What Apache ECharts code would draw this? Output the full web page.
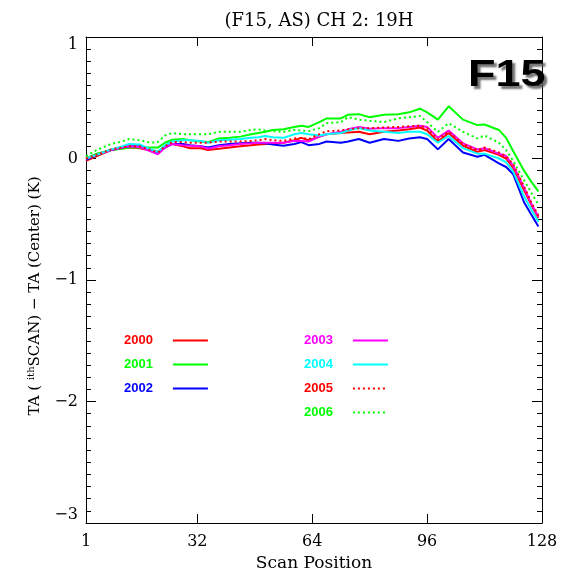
<!DOCTYPE html>
<html>
<head>
<meta charset="utf-8">
<script src="https://cdn.jsdelivr.net/npm/echarts@6/dist/echarts.min.js"></script>
<style>html,body{margin:0;padding:0;background:#fff;}#chart{width:565px;height:570px;}</style>
</head>
<body>
<div id="chart"></div>
<script>
const scanPos = [1,4,8,11,13,16,19,21,23,25,28,30,33,35,38,41,44,47,49,51,53,56,59,61,63,66,68,72,74,77,80,84,88,91,94,96,99,102,106,110,112,116,118,120,123,125,127];
const y2000 = [-0.02,0.02,0.07,0.085,0.09, 0.085,0.065,0.045,0.09,0.12, 0.1,0.085,0.085,0.07,0.08, 0.09,0.1,0.11,0.115,0.12, 0.125,0.13,0.15,0.17,0.15, 0.18,0.2,0.21,0.215,0.22, 0.2,0.22,0.23,0.24,0.255, 0.23,0.14,0.21,0.105,0.055, 0.07,0.03,0.0,-0.08,-0.26, -0.38,-0.49];
const y2001 = [0.0,0.04,0.07,0.08,0.09, 0.09,0.09,0.09,0.13,0.155, 0.16,0.15,0.14,0.135,0.165, 0.17,0.18,0.2,0.21,0.22, 0.235,0.24,0.26,0.27,0.26, 0.3,0.33,0.33,0.36,0.365, 0.34,0.36,0.365,0.38,0.41, 0.38,0.32,0.43,0.32,0.275, 0.28,0.235,0.17,0.06,-0.1, -0.19,-0.27];
const y2002 = [-0.01,0.03,0.07,0.09,0.1, 0.1,0.07,0.045,0.09,0.12, 0.12,0.11,0.1,0.09,0.11, 0.12,0.125,0.13,0.13,0.125, 0.115,0.105,0.12,0.135,0.11, 0.12,0.14,0.13,0.14,0.16, 0.13,0.16,0.145,0.165,0.175, 0.16,0.075,0.16,0.05,0.015, 0.03,-0.04,-0.07,-0.13,-0.36, -0.46,-0.56];
const y2003 = [0.0,0.03,0.07,0.09,0.1, 0.095,0.06,0.035,0.09,0.12, 0.11,0.105,0.1,0.08,0.1, 0.11,0.12,0.125,0.13,0.13, 0.13,0.13,0.145,0.145,0.14, 0.18,0.2,0.22,0.24,0.26, 0.245,0.25,0.25,0.26,0.27, 0.26,0.17,0.23,0.125,0.075, 0.085,0.04,0.02,-0.06,-0.24, -0.37,-0.48];
const y2004 = [0.0,0.03,0.075,0.1,0.12, 0.115,0.075,0.055,0.11,0.14, 0.15,0.15,0.145,0.13,0.15, 0.155,0.16,0.17,0.175,0.185, 0.175,0.17,0.2,0.21,0.2, 0.19,0.2,0.21,0.23,0.25, 0.23,0.22,0.21,0.22,0.22, 0.2,0.13,0.185,0.085,0.04, 0.04,0.0,-0.03,-0.11,-0.31, -0.42,-0.52];
const y2005 = [0.0,0.03,0.075,0.09,0.1, 0.1,0.07,0.05,0.1,0.135, 0.135,0.13,0.13,0.13,0.14, 0.14,0.14,0.145,0.15,0.16, 0.15,0.145,0.165,0.17,0.16, 0.2,0.225,0.23,0.24,0.25, 0.25,0.255,0.26,0.265,0.27, 0.25,0.16,0.22,0.12,0.07, 0.09,0.05,0.02,-0.05,-0.23, -0.36,-0.47];
const y2006 = [0.02,0.07,0.12,0.14,0.16, 0.15,0.13,0.135,0.19,0.21, 0.2,0.2,0.2,0.2,0.22, 0.22,0.22,0.235,0.24,0.23, 0.225,0.22,0.235,0.23,0.225, 0.25,0.29,0.3,0.34,0.32, 0.31,0.3,0.33,0.34,0.35, 0.3,0.22,0.29,0.22,0.165, 0.19,0.13,0.07,-0.02,-0.18, -0.28,-0.38];
const years = ['2000','2001','2002','2003','2004','2005','2006'];
const xTicks = [1,32,64,96,128];
const titleText = '(F15, AS) CH 2: 19H';
const satLabel = 'F15';

const allY = [y2000,y2001,y2002,y2003,y2004,y2005,y2006];
const colors = ['#ff0000','#00ff00','#0000ff','#ff00ff','#00ffff','#ff0000','#00ff00'];
const dashed = [false,false,false,false,false,true,true];
const serif = 'DejaVu Serif';

const series = years.map((yr,i)=>({
  name: yr, type:'line', symbol:'none', showSymbol:false, animation:false,
  data: scanPos.map((s,j)=>[s, allY[i][j]]),
  lineStyle:{color:colors[i], width:2, type: dashed[i] ? [2,3] : 'solid'},
  itemStyle:{color:colors[i]}
}));

const legendText = {fontFamily:'Liberation Sans', fontWeight:'bold', fontSize:13, padding:[0,15,0,0]};
function legendData(list){ return list.map(yr=>({name:yr, textStyle:{color:colors[years.indexOf(yr)]}})); }
const legendCommon = {orient:'vertical', align:'right', itemWidth:35, itemHeight:14, itemGap:11, textStyle:legendText, selectedMode:false,
  itemStyle:{color:'rgba(0,0,0,0)', borderColor:'rgba(0,0,0,0)', borderWidth:0}};

const axisLineStyle = {onZero:false, lineStyle:{color:'#000',width:1}};
const fmt = v => v < 0 ? '\u2212' + Math.abs(v) : String(v);

const chart = echarts.init(document.getElementById('chart'), null, {renderer:'canvas'});
chart.setOption({
  animation:false,
  backgroundColor:'#fff',
  title:{text:titleText, left:314, top:7, textAlign:'center', textStyle:{fontFamily:serif, fontWeight:'normal', fontSize:18, color:'#000'}},
  grid:{left:86, right:23, top:37, bottom:47, containLabel:false, outerBoundsMode:'none'},
  legend:[
    Object.assign({data:legendData(['2000','2001','2002']), left:119, top:329}, legendCommon),
    Object.assign({data:legendData(['2003','2004','2005','2006']), left:299, top:329}, legendCommon)
  ],
  xAxis:[
    {type:'value', min:1, max:128, position:'bottom', axisLine:axisLineStyle, splitLine:{show:false},
      axisTick:{inside:true, length:9, customValues:xTicks, lineStyle:{color:'#000'}},
      axisLabel:{customValues:xTicks, color:'#000', fontFamily:serif, fontSize:16, margin:11},
      name:'Scan Position', nameLocation:'middle', nameGap:30,
      nameTextStyle:{fontFamily:serif, fontSize:17, color:'#000'}},
    {type:'value', min:1, max:128, position:'top', axisLine:axisLineStyle, splitLine:{show:false},
      axisTick:{inside:true, length:9, customValues:xTicks, lineStyle:{color:'#000'}},
      axisLabel:{show:false}}
  ],
  yAxis:[
    {type:'value', min:-3, max:1, interval:1, position:'left', axisLine:axisLineStyle, splitLine:{show:false},
      axisTick:{inside:true, length:10, lineStyle:{color:'#000'}},
      minorTick:{show:true, splitNumber:10, length:5, lineStyle:{color:'#000'}},
      axisLabel:{color:'#000', fontFamily:serif, fontSize:16, margin:8, formatter:fmt, verticalAlignMinLabel:'bottom', verticalAlignMaxLabel:'top'},
      name:'{a|TA ( }{s|ith}{a|SCAN) \u2212 TA (Center) (K)}', nameLocation:'middle', nameGap:42, nameRotate:90,
      nameTextStyle:{color:'#000', padding:[0,32,0,0], rich:{a:{fontFamily:serif, fontSize:15, color:'#000', lineHeight:18}, s:{fontFamily:serif, fontSize:10, color:'#000', verticalAlign:'top', lineHeight:18}}}},
    {type:'value', min:-3, max:1, interval:1, position:'right', axisLine:axisLineStyle, splitLine:{show:false},
      axisTick:{inside:true, length:10, lineStyle:{color:'#000'}},
      minorTick:{show:true, splitNumber:10, length:5, lineStyle:{color:'#000'}},
      axisLabel:{show:false}}
  ],
  graphic:[{type:'text', x:468, y:76, z:100, scaleX:1.25, originX:0, originY:0,
    style:{text:satLabel, fill:'#000', font:'bold 36px "Liberation Sans"', verticalAlign:'middle',
      textShadowColor:'rgba(90,90,90,0.85)', textShadowOffsetX:3, textShadowOffsetY:3, textShadowBlur:2}}],
  series: series
});
</script>
</body>
</html>
